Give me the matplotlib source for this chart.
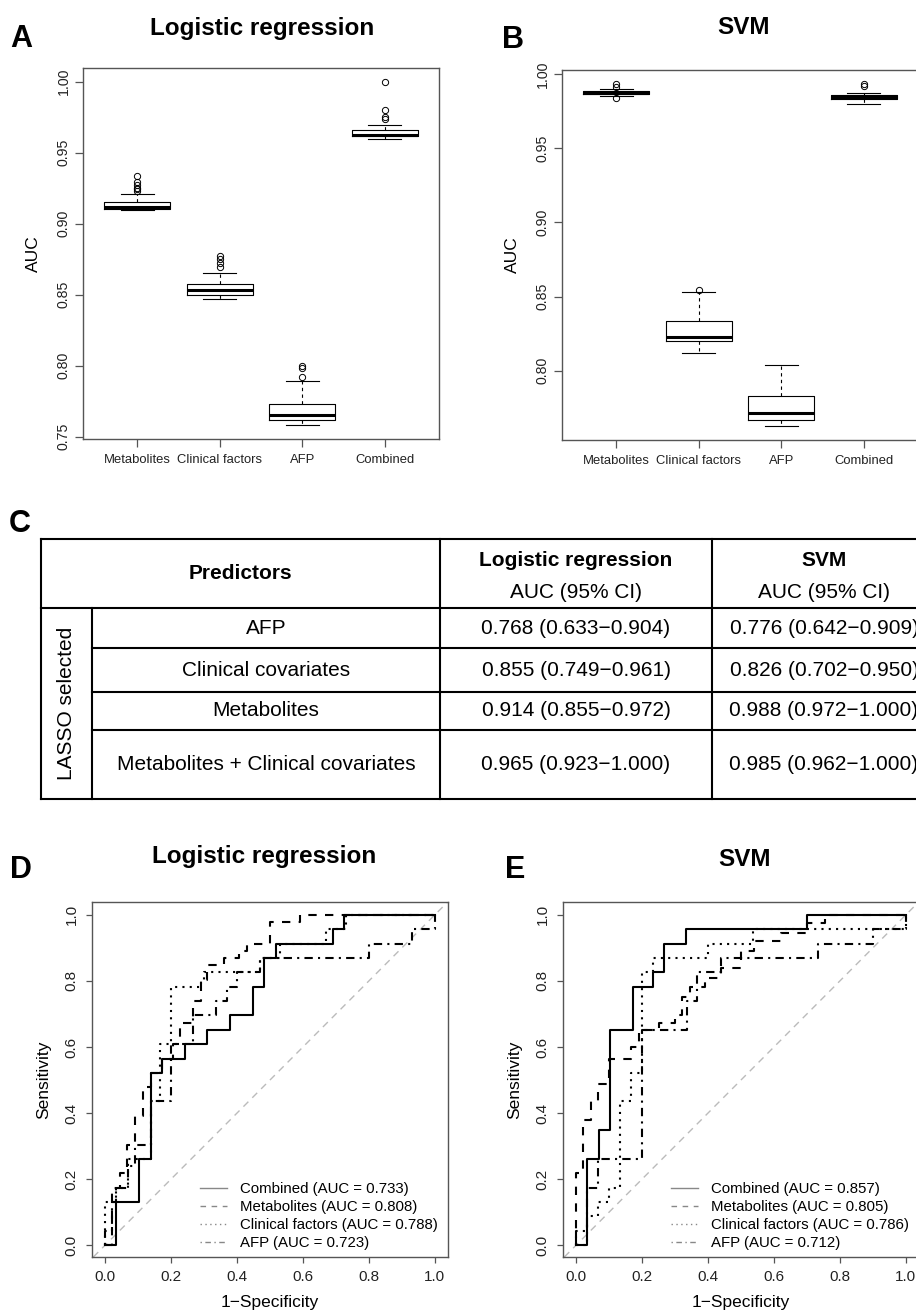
import matplotlib
matplotlib.use("Agg")
import matplotlib.pyplot as plt
from matplotlib.lines import Line2D

plt.rcParams['font.family'] = ['Liberation Sans', 'DejaVu Sans']

W, H = 916, 1316

groups = ["Metabolites", "Clinical factors", "AFP", "Combined"]

# A: logistic regression AUC boxes
lr_med = [0.9119, 0.8531, 0.7653, 0.9626]
lr_q1 = [0.9107, 0.8501, 0.7620, 0.9619]
lr_q3 = [0.9154, 0.8574, 0.7733, 0.9659]
lr_lo = [0.9093, 0.8470, 0.7582, 0.9594]
lr_hi = [0.9206, 0.8654, 0.7892, 0.9697]
lr_out = [[0.9232, 0.9241, 0.9253, 0.9274, 0.9293, 0.9333],
          [0.8696, 0.8724, 0.8748, 0.8771],
          [0.7921, 0.7984, 0.7998],
          [0.9735, 0.9753, 0.9803, 1.0]]

# B: SVM AUC boxes
svm_med = [0.9876, 0.8229, 0.7717, 0.9845]
svm_q1 = [0.9865, 0.8200, 0.7667, 0.9831]
svm_q3 = [0.9885, 0.8335, 0.7827, 0.9861]
svm_lo = [0.9856, 0.8121, 0.7627, 0.9800]
svm_hi = [0.9903, 0.8529, 0.8036, 0.9874]
svm_out = [[0.9843, 0.9917, 0.9933],
           [0.8544],
           [],
           [0.9921, 0.9935]]

# C: table
predictors = ["AFP", "Clinical covariates", "Metabolites",
              "Metabolites + Clinical covariates"]
lr_auc_ci = ["0.768 (0.633\u22120.904)", "0.855 (0.749\u22120.961)",
             "0.914 (0.855\u22120.972)", "0.965 (0.923\u22121.000)"]
svm_auc_ci = ["0.776 (0.642\u22120.909)", "0.826 (0.702\u22120.950)",
              "0.988 (0.972\u22121.000)", "0.985 (0.962\u22121.000)"]

# D: ROC, logistic regression (step corners: fpr, tpr)
d_comb_fpr = [0, 0.034, 0.103, 0.138, 0.172, 0.241, 0.310, 0.379, 0.448, 0.483, 0.517, 0.690, 0.724, 1.0]
d_comb_tpr = [0, 0.130, 0.261, 0.522, 0.565, 0.609, 0.652, 0.696, 0.783, 0.870, 0.913, 0.957, 1.0, 1.0]
d_met_fpr = [0, 0.020, 0.045, 0.066, 0.091, 0.116, 0.138, 0.172, 0.207, 0.226, 0.267, 0.290, 0.310, 0.360, 0.405, 0.430, 0.500, 0.590, 1.0]
d_met_tpr = [0, 0.174, 0.217, 0.304, 0.391, 0.478, 0.522, 0.565, 0.609, 0.674, 0.739, 0.804, 0.848, 0.870, 0.891, 0.913, 0.978, 1.0, 1.0]
d_cli_fpr = [0, 0, 0.034, 0.069, 0.138, 0.166, 0.200, 0.290, 0.300, 0.470, 0.530, 0.670, 0.730, 1.0]
d_cli_tpr = [0, 0.130, 0.174, 0.261, 0.435, 0.609, 0.783, 0.804, 0.826, 0.870, 0.913, 0.957, 1.0, 1.0]
d_afp_fpr = [0, 0, 0.020, 0.034, 0.069, 0.090, 0.138, 0.200, 0.267, 0.335, 0.370, 0.400, 0.470, 0.800, 0.930, 1.0, 1.0]
d_afp_tpr = [0, 0.043, 0.130, 0.174, 0.239, 0.304, 0.435, 0.609, 0.696, 0.739, 0.783, 0.826, 0.870, 0.913, 0.957, 0.957, 1.0]
d_auc = [0.733, 0.808, 0.788, 0.723]

# E: ROC, SVM
e_comb_fpr = [0, 0.034, 0.069, 0.103, 0.172, 0.233, 0.267, 0.333, 0.700, 1.0]
e_comb_tpr = [0, 0.261, 0.348, 0.652, 0.783, 0.826, 0.913, 0.957, 1.0, 1.0]
e_met_fpr = [0, 0, 0.022, 0.045, 0.067, 0.100, 0.165, 0.190, 0.250, 0.300, 0.320, 0.345, 0.390, 0.440, 0.500, 0.540, 0.620, 0.700, 0.755, 1.0]
e_met_tpr = [0, 0.217, 0.380, 0.435, 0.489, 0.565, 0.600, 0.652, 0.674, 0.696, 0.750, 0.783, 0.810, 0.840, 0.890, 0.920, 0.945, 0.975, 1.0, 1.0]
e_cli_fpr = [0, 0.034, 0.067, 0.100, 0.133, 0.166, 0.200, 0.233, 0.400, 0.535, 1.0, 1.0]
e_cli_tpr = [0, 0.087, 0.130, 0.174, 0.435, 0.522, 0.826, 0.870, 0.913, 0.957, 0.957, 1.0]
e_afp_fpr = [0, 0, 0.034, 0.067, 0.200, 0.335, 0.365, 0.440, 0.735, 0.900, 1.0, 1.0]
e_afp_tpr = [0, 0.043, 0.174, 0.261, 0.652, 0.739, 0.826, 0.870, 0.913, 0.957, 0.957, 1.0]
e_auc = [0.857, 0.805, 0.786, 0.712]

roc_names = ["Combined", "Metabolites", "Clinical factors", "AFP"]
roc_styles = ['-', (0, (4, 4)), (0, (1, 2.5)), (0, (1, 2.5, 4, 2.5))]

FRAME = '#555555'
TXT = '#222222'


def px_axes(fig, l, t, r, b):
    return fig.add_axes([l / W, 1 - b / H, (r - l) / W, (b - t) / H])


def frame(ax, ticklen):
    for s in ax.spines.values():
        s.set_color(FRAME)
        s.set_linewidth(1.0)
    ax.tick_params(direction='out', length=ticklen, width=0.9, color=FRAME, labelcolor=TXT)


def box_panel(ax, med, q1, q3, lo, hi, out, ylim, yticks):
    stats = []
    for i in range(len(groups)):
        stats.append(dict(med=med[i], q1=q1[i], q3=q3[i], whislo=lo[i], whishi=hi[i],
                          fliers=out[i], label=groups[i]))
    ax.bxp(stats, positions=[1, 2, 3, 4], widths=0.8, capwidths=0.4,
           boxprops=dict(color='black', lw=0.8),
           medianprops=dict(color='black', lw=2.2, solid_capstyle='butt'),
           whiskerprops=dict(color='black', lw=0.8, linestyle=(0, (3, 3))),
           capprops=dict(color='black', lw=0.8),
           flierprops=dict(marker='o', mfc='none', mec='black', ms=4.5, mew=0.7))
    ax.set_xlim(0.34, 4.66)
    ax.set_ylim(*ylim)
    frame(ax, 5.5)
    ax.set_yticks(yticks, ["%.2f" % v for v in yticks], rotation=90, va='center', fontsize=10.2)
    ax.tick_params(axis='y', pad=3.5)
    ax.tick_params(axis='x', labelsize=9.4, pad=5)
    ax.set_ylabel("AUC", fontsize=12.5, labelpad=11)


def roc_panel(ax, curves, aucs):
    ax.axline((0, 0), (1, 1), color='#bbbbbb', lw=1.0, ls=(0, (5, 4)))
    for (f, t), ls in zip(curves, roc_styles):
        ax.step(f, t, where='post', color='black', lw=1.5, ls=ls)
    ax.set_xlim(-0.04, 1.04)
    ax.set_ylim(-0.036, 1.039)
    frame(ax, 4.5)
    ticks = [0.0, 0.2, 0.4, 0.6, 0.8, 1.0]
    ax.set_xticks(ticks, ["%.1f" % v for v in ticks], fontsize=11)
    ax.set_yticks(ticks, ["%.1f" % v for v in ticks], rotation=90, va='center', fontsize=11)
    ax.tick_params(axis='x', pad=5)
    ax.tick_params(axis='y', pad=5)
    ax.set_xlabel("1\u2212Specificity", fontsize=12.5, labelpad=8)
    ax.set_ylabel("Sensitivity", fontsize=12.5, labelpad=10)
    handles = [Line2D([], [], color='#888888', lw=1.0, ls=ls) for ls in roc_styles]
    labels = ["%s (AUC = %.3f)" % (n, a) for n, a in zip(roc_names, aucs)]
    ax.legend(handles, labels, loc='lower left', bbox_to_anchor=(0.303, 0.02),
              frameon=False, fontsize=10.8, handlelength=1.8, handletextpad=0.85,
              labelspacing=0.27, borderpad=0, borderaxespad=0)


fig = plt.figure(figsize=(W / 100, H / 100), dpi=100)

# A
axA = px_axes(fig, 83, 68, 439, 439)
box_panel(axA, lr_med, lr_q1, lr_q3, lr_lo, lr_hi, lr_out, (0.7483, 1.0097),
          [0.75, 0.80, 0.85, 0.90, 0.95, 1.00])
# B
axB = px_axes(fig, 562, 70, 918, 440)
box_panel(axB, svm_med, svm_q1, svm_q3, svm_lo, svm_hi, svm_out, (0.7532, 1.0029),
          [0.80, 0.85, 0.90, 0.95, 1.00])
# D
axD = px_axes(fig, 92, 902, 448, 1257)
roc_panel(axD, [(d_comb_fpr, d_comb_tpr), (d_met_fpr, d_met_tpr),
                (d_cli_fpr, d_cli_tpr), (d_afp_fpr, d_afp_tpr)], d_auc)
# E
axE = px_axes(fig, 563, 902, 919, 1257)
roc_panel(axE, [(e_comb_fpr, e_comb_tpr), (e_met_fpr, e_met_tpr),
                (e_cli_fpr, e_cli_tpr), (e_afp_fpr, e_afp_tpr)], e_auc)

# overlay in pixel coordinates for titles, letters and the table
ov = fig.add_axes([0, 0, 1, 1], zorder=-1)
ov.set_xlim(0, W)
ov.set_ylim(H, 0)
ov.axis('off')

for x, y, s in [(262, 28, "Logistic regression"), (744, 28, "SVM"),
                (264, 857, "Logistic regression"), (745, 860, "SVM")]:
    ov.text(x, y, s, fontsize=17.5, fontweight='bold', ha='center', va='center')
for x, y, s in [(21, 39, "A"), (513, 40, "B"), (20, 524, "C"), (21, 870, "D"), (515, 870, "E")]:
    ov.text(x, y, s, fontsize=22, fontweight='bold', ha='center', va='center')

# table C
col_edges = [41, 92, 440, 712, 936]
row_edges = [539, 608, 648, 692, 730, 799]
tl = dict(color='black', lw=1.5, solid_capstyle='projecting')
ov.plot([col_edges[0], col_edges[-1]], [row_edges[0]] * 2, **tl)
ov.plot([col_edges[0], col_edges[-1]], [row_edges[1]] * 2, **tl)
ov.plot([col_edges[0], col_edges[-1]], [row_edges[-1]] * 2, **tl)
for y in row_edges[2:-1]:
    ov.plot([col_edges[1], col_edges[-1]], [y, y], **tl)
for x in [col_edges[0], col_edges[2], col_edges[3]]:
    ov.plot([x, x], [row_edges[0], row_edges[-1]], **tl)
ov.plot([col_edges[1]] * 2, [row_edges[1], row_edges[-1]], **tl)

fs = 15
ov.text((col_edges[0] + col_edges[2]) / 2, (row_edges[0] + row_edges[1]) / 2, "Predictors",
        fontsize=fs, fontweight='bold', ha='center', va='center')
for c, head in [(2, "Logistic regression"), (3, "SVM")]:
    xc = (col_edges[c] + col_edges[c + 1]) / 2
    ov.text(xc, 561, head, fontsize=fs, fontweight='bold', ha='center', va='center')
    ov.text(xc, 592, "AUC (95% CI)", fontsize=fs, ha='center', va='center')
ov.text((col_edges[0] + col_edges[1]) / 2, (row_edges[1] + row_edges[-1]) / 2, "LASSO selected",
        fontsize=fs, rotation=90, ha='center', va='center')
for i in range(len(predictors)):
    yc = (row_edges[i + 1] + row_edges[i + 2]) / 2
    ov.text((col_edges[1] + col_edges[2]) / 2, yc, predictors[i], fontsize=fs, ha='center', va='center')
    ov.text((col_edges[2] + col_edges[3]) / 2, yc, lr_auc_ci[i], fontsize=fs, ha='center', va='center')
    ov.text((col_edges[3] + col_edges[4]) / 2, yc, svm_auc_ci[i], fontsize=fs, ha='center', va='center')

fig.savefig("out.png", dpi=100)
